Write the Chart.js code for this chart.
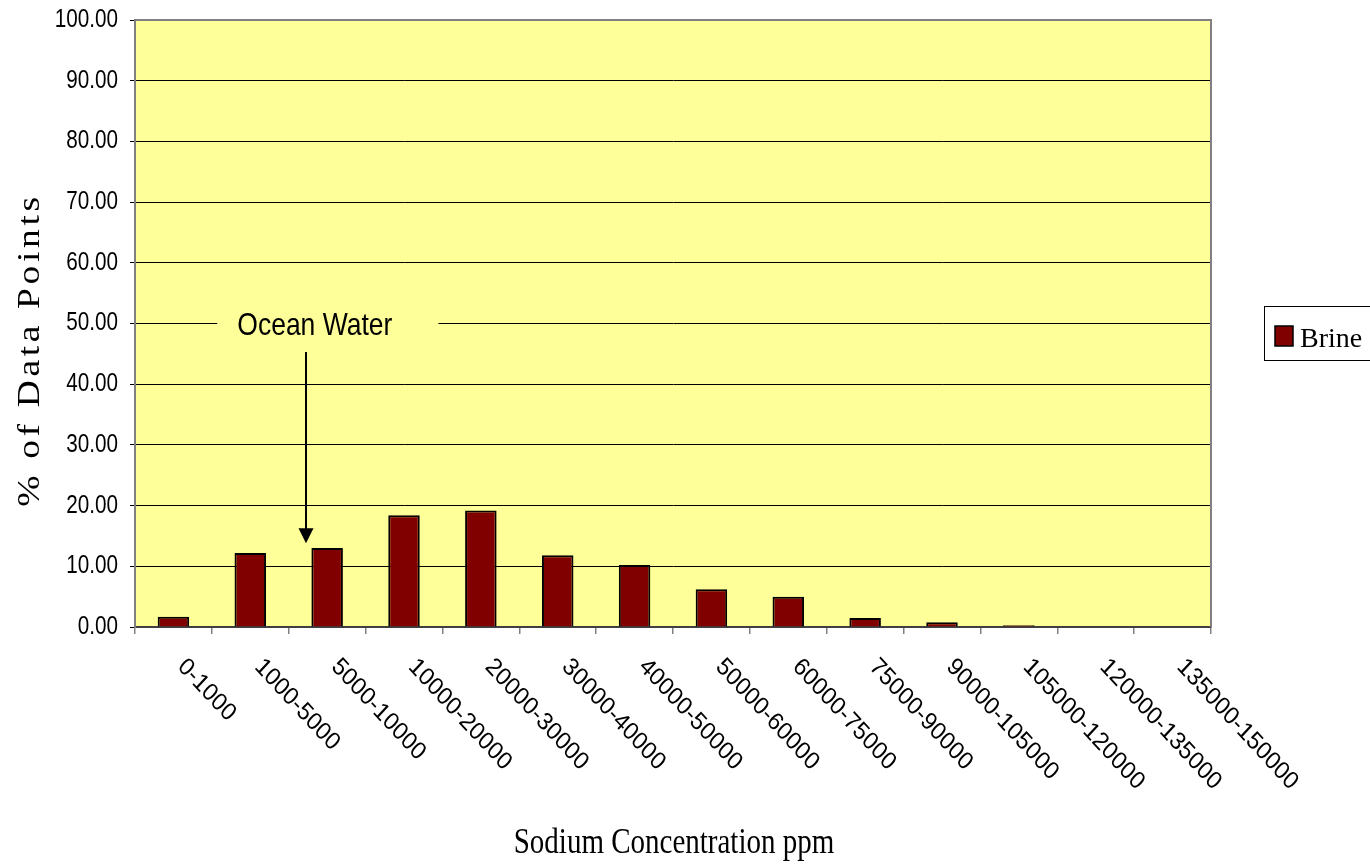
<!DOCTYPE html>
<html>
<head>
<meta charset="utf-8">
<script src="https://cdn.jsdelivr.net/npm/chart.js@4/dist/chart.umd.min.js"></script>
<style>
    body { margin: 0; background: #ffffff; }
    canvas { display: block; }
</style>
</head>
<body>
<canvas id="mainChart" width="1370" height="867"></canvas>
<script>
"use strict";

const categorias = [
    "0-1000", "1000-5000", "5000-10000", "10000-20000", "20000-30000", "30000-40000", "40000-50000",
    "50000-60000", "60000-75000", "75000-90000", "90000-105000", "105000-120000", "120000-135000", "135000-150000",
];
const brine = [1.7, 12.2, 13.0, 18.4, 19.2, 11.8, 10.2, 6.2, 5.0, 1.5, 0.8, 0.3, 0, 0];
const yTicks = [0, 10, 20, 30, 40, 50, 60, 70, 80, 90, 100];

const serieNome = "Brine";
const tituloX = "Sodium Concentration ppm";
const tituloY = "% of Data Points";
const textoNota = "Ocean Water";

// posicao da nota em unidades do grafico (indice da categoria / valor)
const nota = { textoX: 1.84, textoY: 50, setaX: 1.725, setaTopo: 45.3, setaPonta: 13.8 };

// a imagem original esta esticada na vertical
const ESTICA = 1.21;

const ctxMainChart = document.getElementById("mainChart");

function escrever(ctx, texto, x, y, fonte, rot, align, baseline, espaco, estica) {
    ctx.save();
    ctx.translate(x, y);
    ctx.scale(1, estica || ESTICA);
    ctx.rotate(rot);
    ctx.font = fonte;
    ctx.fillStyle = "#000000";
    ctx.textAlign = align;
    ctx.textBaseline = baseline;
    ctx.letterSpacing = espaco || "0px";
    ctx.fillText(texto, 0, 0);
    ctx.restore();
}

const fundoPlugin = {
    id: "fundo",
    beforeDraw(chart) {
        const { ctx, chartArea } = chart;
        ctx.save();
        ctx.fillStyle = "#ffffff";
        ctx.fillRect(0, 0, chart.width, chart.height);
        ctx.fillStyle = "#ffff99";
        ctx.fillRect(chartArea.left, chartArea.top, chartArea.right - chartArea.left, chartArea.bottom - chartArea.top);
        ctx.restore();
    },
};

const textosPlugin = {
    id: "textos",
    afterDatasetsDraw(chart) {
        const { ctx, chartArea, scales } = chart;
        const x = scales.x;
        const y = scales.y;

        // borda de cima e da direita
        ctx.save();
        ctx.strokeStyle = "#808080";
        ctx.lineWidth = 2;
        ctx.beginPath();
        ctx.moveTo(chartArea.left, chartArea.top);
        ctx.lineTo(chartArea.right, chartArea.top);
        ctx.lineTo(chartArea.right, chartArea.bottom);
        ctx.stroke();
        ctx.restore();

        // rotulos do eixo y
        y.ticks.forEach((t) => {
            escrever(ctx, Number(t.value).toFixed(2), 118, y.getPixelForValue(t.value), "20.7px 'Liberation Sans', Arial, sans-serif", 0, "right", "middle");
        });

        // rotulos do eixo x (inclinados para baixo)
        categorias.forEach((cat, i) => {
            escrever(ctx, cat, x.getPixelForValue(i) + 16, 654, "23px 'Liberation Sans', Arial, sans-serif", Math.PI / 4, "left", "top", "0px", 1.08);
        });

        // titulos
        escrever(ctx, tituloX, 674, 853, "29px 'Liberation Serif', 'Times New Roman', serif", 0, "center", "alphabetic");
        escrever(ctx, tituloY, 31, 350, "31px 'Liberation Serif', 'Times New Roman', serif", -Math.PI / 2, "center", "middle", "3px");

        // nota "Ocean Water" com a seta
        const tx = x.getPixelForValue(nota.textoX);
        const ty = y.getPixelForValue(nota.textoY);
        ctx.save();
        ctx.font = "26.5px 'Liberation Sans', Arial, sans-serif";
        const larg = ctx.measureText(textoNota).width;
        ctx.fillStyle = "#ffff99";
        ctx.fillRect(tx - larg / 2 - 20, ty - 14, larg + 66, 28);
        ctx.restore();
        escrever(ctx, textoNota, tx, ty + 11, "26.5px 'Liberation Sans', Arial, sans-serif", 0, "center", "alphabetic");

        const sx = x.getPixelForValue(nota.setaX);
        const sTopo = y.getPixelForValue(nota.setaTopo);
        const sPonta = y.getPixelForValue(nota.setaPonta);
        ctx.save();
        ctx.strokeStyle = "#000000";
        ctx.fillStyle = "#000000";
        ctx.lineWidth = 2;
        ctx.beginPath();
        ctx.moveTo(sx, sTopo);
        ctx.lineTo(sx, sPonta - 14);
        ctx.stroke();
        ctx.beginPath();
        ctx.moveTo(sx - 7.5, sPonta - 15);
        ctx.lineTo(sx + 7.5, sPonta - 15);
        ctx.lineTo(sx, sPonta);
        ctx.closePath();
        ctx.fill();
        ctx.restore();

        // legenda
        const ds = chart.data.datasets[0];
        ctx.save();
        ctx.fillStyle = "#ffffff";
        ctx.fillRect(1264, 306, 120, 54);
        ctx.strokeStyle = "#000000";
        ctx.lineWidth = 1;
        ctx.strokeRect(1264.5, 306.5, 120, 54);
        ctx.fillStyle = ds.backgroundColor;
        ctx.fillRect(1275, 326, 18, 20);
        ctx.lineWidth = 1.5;
        ctx.strokeRect(1275, 326, 18, 20);
        ctx.fillStyle = "#000000";
        ctx.font = "28px 'Liberation Serif', 'Times New Roman', serif";
        ctx.textBaseline = "alphabetic";
        ctx.fillText(ds.label, 1300, 347);
        ctx.restore();
    },
};

let mainChart = new Chart(ctxMainChart, {
    type: "bar",
    data: {
        labels: categorias,
        datasets: [
            {
                label: serieNome,
                data: brine,
                backgroundColor: "#800000",
                borderColor: "#000000",
                borderWidth: 2,
                barPercentage: 0.41,
                categoryPercentage: 1,
            },
        ],
    },
    options: {
        responsive: false,
        animation: false,
        layout: {
            padding: { top: 20, right: 159, left: 0, bottom: 0 },
        },
        plugins: {
            legend: { display: false },
            tooltip: { enabled: false },
        },
        scales: {
            x: {
                afterFit: (scale) => {
                    scale.height = 240;
                },
                ticks: { display: false },
                grid: {
                    drawOnChartArea: false,
                    drawTicks: true,
                    tickLength: 7,
                    color: "#808080",
                    lineWidth: 1.5,
                },
                border: { color: "#404040", width: 2 },
            },
            y: {
                min: 0,
                max: 100,
                afterFit: (scale) => {
                    scale.width = 135;
                },
                afterBuildTicks: (scale) => {
                    scale.ticks = yTicks.map((v) => ({ value: v }));
                },
                ticks: { display: false },
                grid: {
                    color: "#000000",
                    lineWidth: 1,
                    tickLength: 5,
                },
                border: { color: "#808080", width: 2 },
            },
        },
    },
    plugins: [fundoPlugin, textosPlugin],
});
</script>
</body>
</html>
